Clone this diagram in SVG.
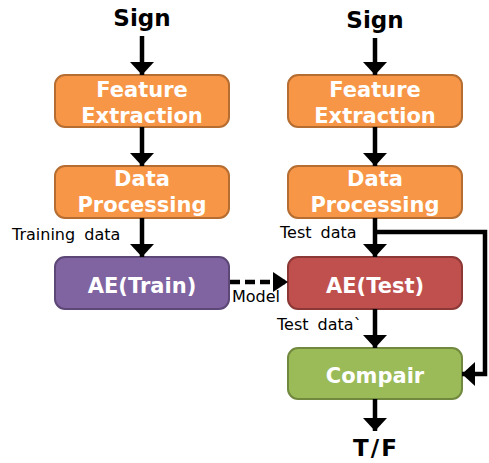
<svg xmlns="http://www.w3.org/2000/svg" width="489" height="463" viewBox="0 0 489 463">
<defs>
<marker id="ah" viewBox="0 0 13 24" refX="13" refY="12" markerWidth="13" markerHeight="24" markerUnits="userSpaceOnUse" orient="auto">
<path d="M0,0 L13,12 L0,24 z" fill="#000"/>
</marker>
<marker id="ahs" viewBox="0 0 15 20" refX="15" refY="10" markerWidth="15" markerHeight="20" markerUnits="userSpaceOnUse" orient="auto">
<path d="M0,0 L15,10 L0,20 z" fill="#000"/>
</marker>
<style>
.box{stroke-width:2}
.or{fill:#F79646;stroke:#B66D31}
.pu{fill:#8064A2;stroke:#5C4776}
.rd{fill:#C0504D;stroke:#8C3836}
.gr{fill:#9BBB59;stroke:#71893F}
.bt{font-family:"DejaVu Sans","Open Sans",sans-serif;font-weight:bold;font-size:21px;fill:#fff;text-anchor:middle}
.tt{font-family:"DejaVu Sans","Open Sans",sans-serif;font-weight:bold;font-size:23px;fill:#000;text-anchor:middle}
.lb{font-family:"DejaVu Sans","Noto Sans",sans-serif;font-size:16px;fill:#000;word-spacing:4px}
.ln{stroke:#000;stroke-width:4.5;fill:none}
</style>
</defs>
<g id="sign-left"><text class="tt" x="142" y="26">Sign</text></g>
<g id="sign-right"><text class="tt" x="375" y="28">Sign</text></g>
<g id="fe-left"><rect class="box or" x="55" y="75" width="174" height="52" rx="10"/><text class="bt" x="142" y="97">Feature</text><text class="bt" x="142" y="123">Extraction</text></g>
<g id="dp-left"><rect class="box or" x="55" y="166" width="174" height="52" rx="10"/><text class="bt" x="142" y="186">Data</text><text class="bt" x="142" y="212">Processing</text></g>
<g id="ae-train"><rect class="box pu" x="55" y="257" width="174" height="52" rx="10"/><text class="bt" x="142" y="293">AE(Train)</text></g>
<g id="fe-right"><rect class="box or" x="288" y="75" width="174" height="52" rx="10"/><text class="bt" x="375" y="97">Feature</text><text class="bt" x="375" y="123">Extraction</text></g>
<g id="dp-right"><rect class="box or" x="288" y="166" width="174" height="52" rx="10"/><text class="bt" x="375" y="186">Data</text><text class="bt" x="375" y="212">Processing</text></g>
<g id="ae-test"><rect class="box rd" x="288" y="257" width="174" height="52" rx="10"/><text class="bt" x="375" y="293">AE(Test)</text></g>
<g id="compair"><rect class="box gr" x="288" y="348" width="174" height="51" rx="10"/><text class="bt" x="375" y="383">Compair</text></g>
<g id="tf"><text class="tt" x="376" y="456" style="font-size:23px;letter-spacing:2px">T/F</text></g>
<g id="connectors">
<line class="ln" x1="142" y1="36" x2="142" y2="75" marker-end="url(#ah)"/>
<line class="ln" x1="142" y1="127" x2="142" y2="166" marker-end="url(#ah)"/>
<line class="ln" x1="142" y1="218" x2="142" y2="257" marker-end="url(#ah)"/>
<line class="ln" x1="375" y1="38" x2="375" y2="75" marker-end="url(#ah)"/>
<line class="ln" x1="375" y1="127" x2="375" y2="166" marker-end="url(#ah)"/>
<line class="ln" x1="375" y1="218" x2="375" y2="257" marker-end="url(#ah)"/>
<line class="ln" x1="375" y1="309" x2="375" y2="348" marker-end="url(#ah)"/>
<line class="ln" x1="375" y1="399" x2="375" y2="431" marker-end="url(#ah)"/>
<polyline class="ln" points="375,232 485,232 485,374 462,374" marker-end="url(#ah)"/>
<line class="ln" x1="230" y1="282" x2="288" y2="282" stroke-dasharray="10,5" marker-end="url(#ahs)"/>
<text class="lb" x="12" y="240">Training data</text>
<text class="lb" x="280" y="238">Test data</text>
<text class="lb" x="232" y="302">Model</text>
<text class="lb" x="277" y="330">Test data`</text>
</g>
</svg>
